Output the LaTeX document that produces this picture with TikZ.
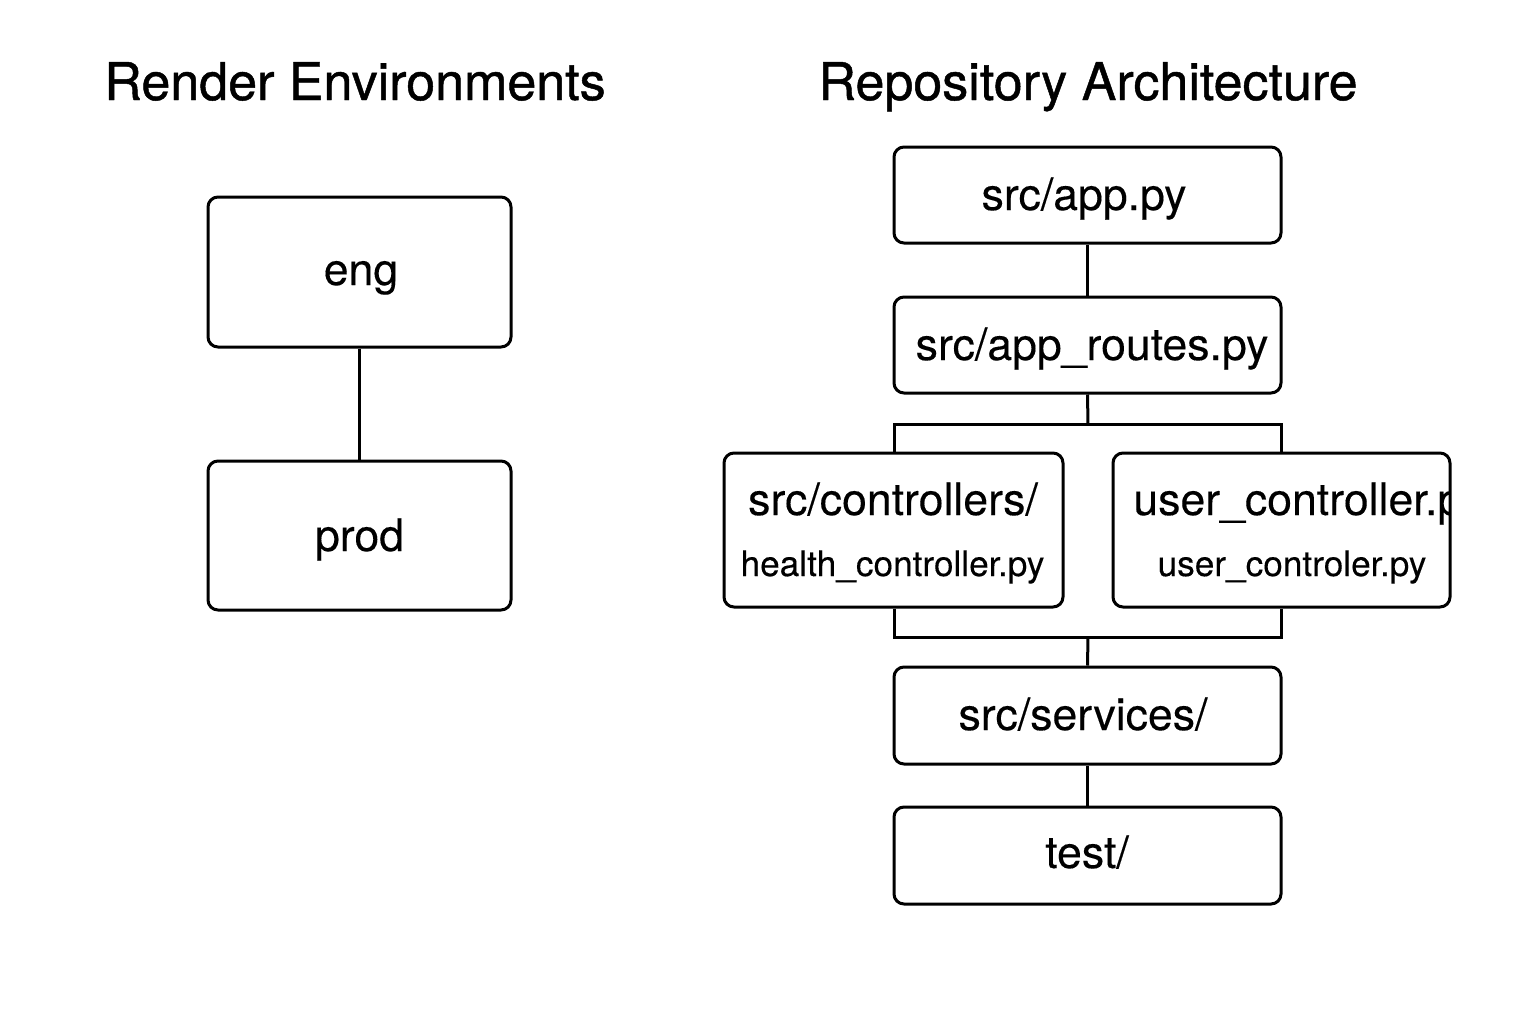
\documentclass[tikz,border=0pt]{standalone}
\usepackage{fontspec}
\setmainfont{TeX Gyre Heros}
\newfontfamily\titlefont[FakeBold=0.9]{TeX Gyre Heros}
\newfontfamily\lblfont[FakeBold=0.25]{TeX Gyre Heros}
\begin{document}
\begin{tikzpicture}[x=0.5pt,y=-0.5pt,
  box/.style={draw=black,line width=1.5pt,rounded corners=5pt,fill=white,inner sep=0pt},
  conn/.style={draw=black,line width=1.5pt},
  title/.style={font=\titlefont\fontsize{26}{30}\selectfont,inner sep=0pt,anchor=base},
  lbl/.style={font=\lblfont\fontsize{22.3}{26}\selectfont,inner sep=0pt,anchor=base},
  small/.style={font=\lblfont\fontsize{17.6}{21}\selectfont,inner sep=0pt,anchor=base}]
\useasboundingbox[fill=white] (0,0) rectangle (1536,1024);
% titles
\node[title] (t1) at (355,100) {Render Environments};
\node[title] (t2) at (1088,100) {Repository Architecture};
% left column
\node[box,minimum width=151.5pt,minimum height=75pt] (eng) at (359.5,272) {};
\node[lbl] (engt) at (361,285) {eng};
\node[box,minimum width=151.5pt,minimum height=74.5pt] (prod) at (359.5,535.5) {};
\node[lbl] (prodt) at (359.5,551) {prod};
\draw[conn] (eng.south) -- (prod.north);
% right column
\node[box,minimum width=193.5pt,minimum height=48pt] (app) at (1087.5,195) {};
\node[lbl] (appt) at (1084,210) {src/app.py};
\node[box,minimum width=193.5pt,minimum height=48pt] (routes) at (1087.5,345) {};
\node[lbl] (routest) at (1092,360) {src/app\_routes.py};
\node[box,minimum width=169.5pt,minimum height=77pt] (ctrl) at (893.5,530) {};
\node[lbl] (ctrlt) at (893,515) {src/controllers/};
\node[small] (health) at (892.5,576) {health\_controller.py};
\node[box,minimum width=168.5pt,minimum height=77pt] (user) at (1281.5,530) {};
\begin{scope}
  \clip (1113,453) rectangle (1449,607);
  \node[lbl,anchor=base west] (usertop) at (1133,515) {user\_controller.py};
\end{scope}
\node[small] (userb) at (1292,576) {user\_controler.py};
\node[box,minimum width=193.5pt,minimum height=48.5pt] (serv) at (1087.5,715.5) {};
\node[lbl] (servt) at (1083,730) {src/services/};
\node[box,minimum width=193.5pt,minimum height=48.5pt] (test) at (1087.5,855.5) {};
\node[lbl] (testt) at (1087,868) {test/};
% connectors
\draw[conn] (app.south) -- (routes.north);
\coordinate (tb) at (1088,424);
\coordinate (tl) at (894,424);
\coordinate (tr) at (1281,424);
\coordinate (bb) at (1088,637);
\coordinate (bl) at (894,637);
\coordinate (br) at (1281,637);
\draw[conn] (routes.south) -- (tb);
\draw[conn] (tl |- ctrl.north) -- (tl) -- (tr) -- (tr |- user.north);
\draw[conn] (bl |- ctrl.south) -- (bl) -- (br) -- (br |- user.south);
\draw[conn] (bb) -- (serv.north);
\draw[conn] (serv.south) -- (test.north);
\end{tikzpicture}
\end{document}
